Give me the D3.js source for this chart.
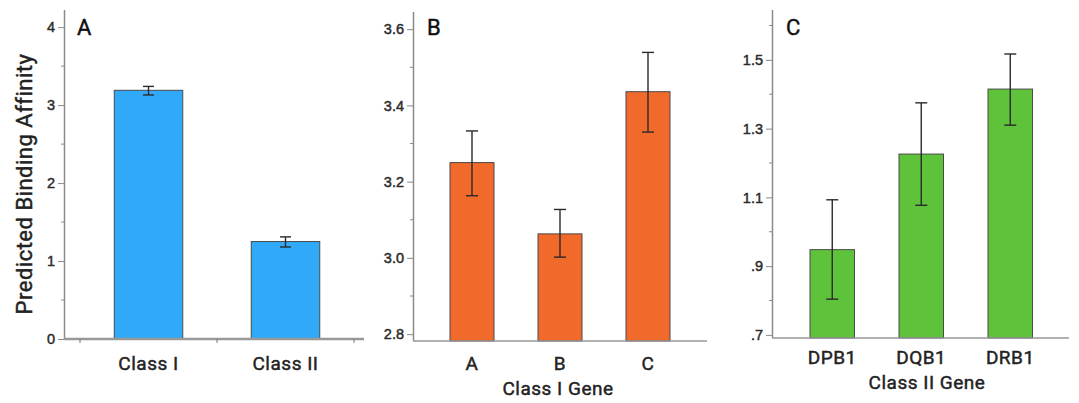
<!DOCTYPE html>
<html>
<head>
<meta charset="utf-8">
<script src="https://cdn.jsdelivr.net/npm/d3@7"></script>
<style>
  body { margin: 0; background: #fff; }
  svg { display: block; font-family: Roboto, "DejaVu Sans", sans-serif; }
  .med { stroke: currentColor; stroke-width: 0.45px; letter-spacing: 0.5px; }
</style>
</head>
<body>
<svg id="chart" width="1079" height="403"></svg>
<script>
// data
const catsA = ["Class I", "Class II"];
const meanA = [3.19, 1.25];
const lowA = [3.13, 1.18];
const highA = [3.24, 1.31];

const catsB = ["A", "B", "C"];
const meanB = [3.25, 3.063, 3.436];
const lowB = [3.163, 3.002, 3.33];
const highB = [3.333, 3.127, 3.539];

const catsC = ["DPB1", "DQB1", "DRB1"];
const meanC = [0.948, 1.226, 1.415];
const lowC = [0.804, 1.077, 1.31];
const highC = [1.093, 1.375, 1.517];

const ticksA = [0, 1, 2, 3, 4], minorA = [0.5, 1.5, 2.5, 3.5];
const ticksB = [2.8, 3.0, 3.2, 3.4, 3.6], minorB = [2.9, 3.1, 3.3, 3.5];
const ticksC = [0.7, 0.9, 1.1, 1.3, 1.5], minorC = [0.8, 1.0, 1.2, 1.4, 1.6];

(() => {
    const svg = d3.select("#chart");

    const panels = [
        {
            letter: "A", cats: catsA, mean: meanA, low: lowA, high: highA,
            ticks: ticksA, minor: minorA, fmt: d3.format("d"),
            color: "#30aaf8", axisX: 64, baseY: 339, lineEnd: 364, lineW: 2.5,
            yDomain: [0, 4.22], yTop: 10, xRange: [80, 354], capW: 11,
            xTicks: true, title: null, letterX: 77, labelY: 370
        },
        {
            letter: "B", cats: catsB, mean: meanB, low: lowB, high: highB,
            ticks: ticksB, minor: minorB, fmt: d3.format(".1f"),
            color: "#f1692b", axisX: 413, baseY: 341, lineEnd: 707, lineW: 1.5,
            yDomain: [2.782, 3.645], yTop: 12, xRange: [428, 692], capW: 12,
            xTicks: false, title: "Class I Gene", titleX: 558, letterX: 427, labelY: 370, titleY: 395
        },
        {
            letter: "C", cats: catsC, mean: meanC, low: lowC, high: highC,
            ticks: ticksC, minor: minorC, fmt: d => d3.format(".1f")(d).replace(/^0/, ""),
            color: "#5fc23b", axisX: 772, baseY: 338, lineEnd: 1069, lineW: 1.5,
            yDomain: [0.691, 1.645], yTop: 10, xRange: [787.75, 1054.75], capW: 12,
            xTicks: false, title: "Class II Gene", titleX: 927, letterX: 786, labelY: 364, titleY: 389
        }
    ];

    panels.forEach(p => {
        const g = svg.append("g");
        const y = d3.scaleLinear().domain(p.yDomain).range([p.baseY, p.yTop]);
        const x = d3.scaleBand().domain(p.cats).range(p.xRange)
            .paddingInner(0.5).paddingOuter(0.25);

        // y axis
        const yAxis = g.append("g")
            .attr("transform", `translate(${p.axisX},0)`)
            .call(d3.axisLeft(y).tickValues(p.ticks).tickFormat(p.fmt).tickSize(6).tickPadding(3));
        yAxis.select(".domain").attr("stroke", "#8a8a8a").attr("stroke-width", 1.5)
            .attr("d", `M0.5,${p.baseY}V${p.yTop}`);
        yAxis.selectAll(".tick line").attr("stroke", "#8a8a8a");
        yAxis.selectAll(".tick text").attr("class", "med").attr("fill", "#2a2a2a")
            .style("color", "#2a2a2a").style("letter-spacing", "0px")
            .attr("font-size", 14.5);

        g.append("g")
            .selectAll("line")
            .data(p.minor)
            .join("line")
            .attr("x1", p.axisX - 3).attr("x2", p.axisX)
            .attr("y1", d => y(d)).attr("y2", d => y(d))
            .attr("stroke", "#8a8a8a");

        // bars
        g.append("g")
            .selectAll("rect")
            .data(p.cats)
            .join("rect")
            .attr("x", d => x(d))
            .attr("width", x.bandwidth())
            .attr("y", (d, i) => y(p.mean[i]))
            .attr("height", (d, i) => p.baseY - y(p.mean[i]))
            .attr("fill", p.color)
            .attr("stroke", "#4a4a4a")
            .attr("stroke-width", 1);

        // baseline
        g.append("line")
            .attr("x1", p.axisX).attr("x2", p.lineEnd)
            .attr("y1", p.baseY).attr("y2", p.baseY)
            .attr("stroke", "#999").attr("stroke-width", p.lineW);

        if (p.xTicks) {
            const st = x.step();
            const xs = p.cats.map(c => x(c) - st * 0.25).concat([x(p.cats[p.cats.length - 1]) + st * 0.75]);
            g.append("g").selectAll("line").data(xs).join("line")
                .attr("x1", d => d).attr("x2", d => d)
                .attr("y1", p.baseY).attr("y2", p.baseY + 4)
                .attr("stroke", "#777");
        }

        // error bars
        const eb = g.append("g").attr("stroke", "#2a2a2a").attr("stroke-width", 1.4);
        p.cats.forEach((c, i) => {
            const cx = x(c) + x.bandwidth() / 2;
            eb.append("line").attr("x1", cx).attr("x2", cx)
                .attr("y1", y(p.low[i])).attr("y2", y(p.high[i]));
            [p.low[i], p.high[i]].forEach(v => {
                eb.append("line").attr("x1", cx - p.capW / 2).attr("x2", cx + p.capW / 2)
                    .attr("y1", y(v)).attr("y2", y(v));
            });
        });

        // category labels
        g.append("g").selectAll("text").data(p.cats).join("text")
            .attr("class", "med")
            .attr("x", d => x(d) + x.bandwidth() / 2)
            .attr("y", p.labelY)
            .attr("text-anchor", "middle")
            .attr("font-size", 19).attr("fill", "#222").style("color", "#222")
            .text(d => d);

        if (p.title) {
            g.append("text")
                .attr("class", "med")
                .attr("x", p.titleX)
                .attr("y", p.titleY)
                .attr("text-anchor", "middle")
                .attr("font-size", 19).attr("fill", "#222").style("color", "#222")
                .text(p.title);
        }

        // panel letter
        g.append("text")
            .attr("class", "med")
            .attr("x", p.letterX).attr("y", 35)
            .attr("font-size", 22).attr("fill", "#111").style("color", "#111")
            .text(p.letter);
    });

    // shared y title
    svg.append("text")
        .attr("class", "med")
        .attr("transform", "translate(32,184) rotate(-90)")
        .attr("text-anchor", "middle")
        .attr("font-size", 22).attr("fill", "#222").style("color", "#222")
        .text("Predicted Binding Affinity");
})();
</script>
</body>
</html>
